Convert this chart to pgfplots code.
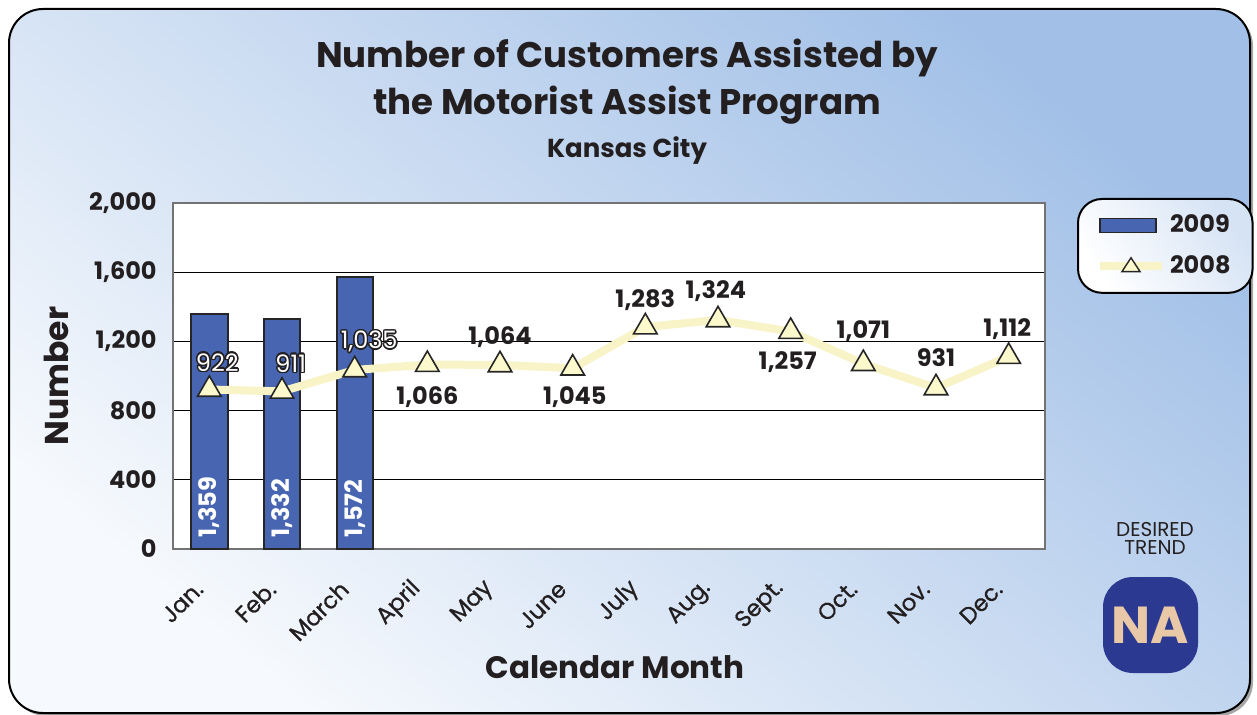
\documentclass[border=0pt]{standalone}
\usepackage{pgfplots}
\pgfplotsset{compat=1.18}
\usepackage{fontspec}
\setmainfont{Poppins}
\newfontfamily\medfont{Poppins}[FakeBold=0.8]
\usepackage{contour}
\contourlength{0.7pt}
\definecolor{barblue}{RGB}{71,101,176}
\definecolor{linecream}{RGB}{248,244,200}
\definecolor{markfill}{RGB}{252,249,205}
\definecolor{bgwhite}{RGB}{246,249,253}
\definecolor{bgblue}{RGB}{162,192,231}
\definecolor{nablue}{RGB}{43,57,144}
\definecolor{nabeige}{RGB}{233,200,168}
\definecolor{txt}{RGB}{35,31,32}
\begin{document}
\begin{tikzpicture}
\path[use as bounding box] (0,0) rectangle (628.5pt,-357.5pt);
% shadow
\fill[gray!70, rounded corners=17pt] (6pt,-6pt) rectangle (626.5pt,-358pt);
\shade[left color=bgwhite, right color=bgblue, shading angle=140, rounded corners=17pt, draw=black, line width=1pt]
  (4.5pt,-4.5pt) rectangle (625pt,-356.5pt);
% titles
\node[font=\fontsize{17.8}{23.5}\selectfont\bfseries, text=txt, align=center] at (313.5pt,-40.8pt)
  {Number of Customers Assisted by\\ the Motorist Assist Program};
\node[font=\fontsize{13}{15}\selectfont\bfseries, text=txt] at (313.5pt,-75.5pt) {Kansas City};
% desired trend
\node[font=\fontsize{10}{11}\selectfont, text=txt, align=center] at (577.5pt,-269pt) {DESIRED\\[-2pt]TREND};
\fill[nablue, rounded corners=15pt] (551.5pt,-288.5pt) rectangle (599pt,-336.5pt);
\node[font=\fontsize{26}{28}\selectfont\bfseries, text=nabeige] at (575.25pt,-312.5pt) {NA};
\begin{axis}[
  at={(86.5pt,-101.5pt)}, anchor=north west,
  scale only axis, width=436pt, height=173pt,
  xmin=-0.5, xmax=11.5, ymin=0, ymax=2000,
  axis background/.style={fill=white},
  axis line style={draw=black!55, line width=0.75pt},
  xtick={0,1,...,11},
  xticklabels={Jan.,Feb.,March,April,May,June,July,Aug.,Sept.,Oct.,Nov.,Dec.},
  ytick={0,400,800,1200,1600,2000},
  ymajorgrids, grid style={black, line width=0.5pt},
  major tick length=0pt,
  /pgf/number format/.cd, 1000 sep={,}, assume math mode=true, /pgfplots/.cd,
  yticklabel style={font=\fontsize{12}{14}\selectfont\bfseries, text=txt, inner sep=0pt, xshift=-8pt},
  xticklabel style={font=\fontsize{11.5}{13}\selectfont\medfont, text=txt, inner sep=0pt, xshift=-5pt, yshift=-18pt, rotate=45, anchor=east},
  every axis y label/.style={at={(axis description cs:-0.134,0.5)}, rotate=90, anchor=center, font=\fontsize{16.5}{18}\selectfont\bfseries, text=txt},
  every axis x label/.style={at={(axis description cs:0.507,-0.341)}, anchor=center, font=\fontsize{15.5}{18}\selectfont\bfseries, text=txt},
  ylabel={Number}, xlabel={Calendar Month},
  legend style={at={(axis description cs:1.0367,1.0145)}, anchor=north west,
    draw=black, line width=1pt, rounded corners=12pt,
    left color=white, right color=bgblue!45, shading angle=125,
    inner xsep=9pt, inner ysep=6pt, row sep=6pt,
    font=\fontsize{12}{14}\selectfont\bfseries, text=txt},
  legend cell align=left,
  clip=false,
]
\addplot[ybar, bar width=0.5, fill=barblue, draw=black!85, line width=1pt,
  legend image code/.code={\draw[sharp corners, fill=barblue, draw=black!85, line width=0.8pt] (0pt,-3.5pt) rectangle (28pt,3.5pt);}]
  coordinates {(0,1359) (1,1332) (2,1572)};
\addlegendentry{2009}
\addplot[color=linecream, line width=4pt, mark=triangle*, mark size=6.8pt,
  mark options={fill=markfill, draw=black!85, line width=0.8pt},
  legend image code/.code={\draw[sharp corners, linecream, line width=4pt] (0pt,0pt) -- (31pt,0pt);
     \draw[sharp corners, fill=markfill, draw=black!85, line width=0.7pt] (15.5pt,4.3pt) -- (11pt,-2.6pt) -- (20pt,-2.6pt) -- cycle;}]
  coordinates {(0,922) (1,911) (2,1035) (3,1066) (4,1064) (5,1045) (6,1283) (7,1324) (8,1257) (9,1071) (10,931) (11,1112)};
\addlegendentry{2008}
% bar value labels
\foreach \i/\v in {0/{1,359},1/{1,332},2/{1,572}}{
  \edef\temp{\noexpand\node[rotate=90, anchor=west, inner sep=0pt, text=white, font=\noexpand\fontsize{12}{14}\noexpand\selectfont\noexpand\bfseries] at (axis cs:\i,62) {\v};}\temp
}
% line value labels
\begin{scope}[every node/.style={font=\fontsize{12}{14}\selectfont\bfseries, text=txt, inner sep=0pt}]
\node at (axis cs:0.11,1075) {\contour{txt}{\textcolor{white}{\mdseries 922}}};
\node at (axis cs:1.12,1070) {\contour{txt}{\textcolor{white}{\mdseries 911}}};
\node at (axis cs:2.2,1195) {\contour{txt}{\textcolor{white}{\mdseries 1,035}}};
\node at (axis cs:3,879) {1,066};
\node at (axis cs:4,1225) {1,064};
\node at (axis cs:5.03,879) {1,045};
\node at (axis cs:6,1439) {1,283};
\node at (axis cs:6.97,1491) {1,324};
\node at (axis cs:7.96,1081) {1,257};
\node at (axis cs:9,1260) {1,071};
\node at (axis cs:10,1104) {931};
\node at (axis cs:10.98,1272) {1,112};
\end{scope}
\end{axis}
\end{tikzpicture}
\end{document}
